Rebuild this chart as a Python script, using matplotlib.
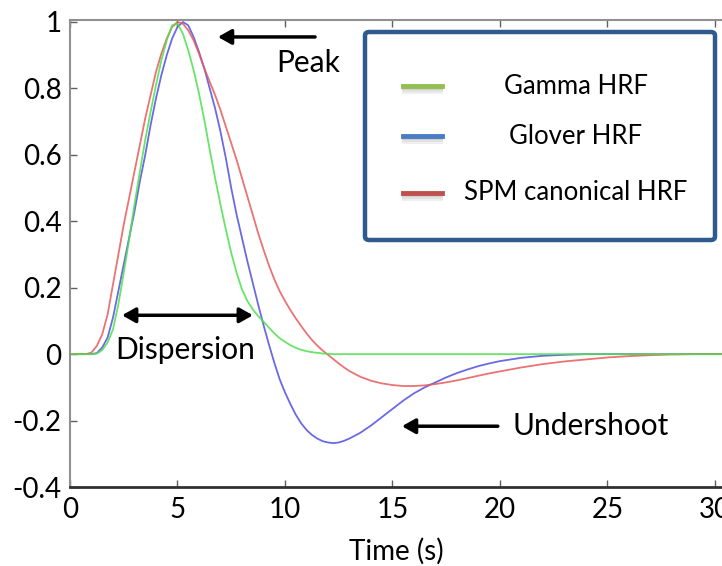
import numpy as np
import matplotlib
matplotlib.use("Agg")
import matplotlib.pyplot as plt
from matplotlib.patches import FancyBboxPatch
from matplotlib.lines import Line2D

plt.rcParams['font.family'] = ['Lato', 'DejaVu Sans']

# values
time = [0, 0.5, 0.75, 1, 1.25, 1.5, 1.75, 2, 2.25, 2.5, 2.75, 3, 3.25, 3.5, 3.75,
        4, 4.25, 4.5, 4.75, 5, 5.25, 5.5, 5.75, 6, 6.25, 6.5, 6.75, 7, 7.25, 7.5,
        7.75, 8, 8.25, 8.5, 8.75, 9, 9.25, 9.5, 9.75, 10, 10.25, 10.5, 10.75, 11,
        11.25, 11.5, 11.75, 12, 12.25, 12.5, 12.75, 13,
        13.5, 14, 14.5, 15, 15.5, 16, 16.5, 17, 17.5, 18, 18.5, 19, 19.5, 20,
        21, 22, 23, 24, 25, 26, 27, 28, 29, 30, 31]
gamma_hrf = [0, 0, 0, 0, 0.002, 0.012, 0.035, 0.075, 0.15, 0.245, 0.345, 0.45, 0.55,
             0.645, 0.73, 0.81, 0.885, 0.945, 0.99, 0.995, 0.965, 0.915, 0.855, 0.785,
             0.705, 0.615, 0.53, 0.45, 0.375, 0.305, 0.245, 0.195, 0.16, 0.135, 0.115,
             0.098, 0.08, 0.063, 0.048, 0.037, 0.027, 0.019, 0.013, 0.009, 0.006,
             0.004, 0.002, 0.001, 0, 0, 0, 0,
             0, 0, 0, 0, 0, 0, 0, 0, 0, 0, 0, 0, 0, 0,
             0, 0, 0, 0, 0, 0, 0, 0, 0, 0, 0]
glover_hrf = [0, 0, 0, 0, 0.003, 0.02, 0.05, 0.11, 0.19, 0.27, 0.35, 0.43, 0.52,
              0.60, 0.69, 0.77, 0.84, 0.90, 0.95, 0.985, 1.0, 0.99, 0.955, 0.91, 0.86,
              0.80, 0.74, 0.67, 0.59, 0.50, 0.42, 0.35, 0.28, 0.215, 0.15, 0.088, 0.03,
              -0.025, -0.075, -0.115, -0.15, -0.182, -0.208, -0.228, -0.243, -0.254,
              -0.262, -0.266, -0.268, -0.266, -0.261, -0.254,
              -0.237, -0.215, -0.19, -0.165, -0.14, -0.118, -0.1, -0.085, -0.07,
              -0.057, -0.046, -0.036, -0.028, -0.021,
              -0.011, -0.005, -0.002, 0, 0, 0, 0, 0, 0, 0, 0]
spm_hrf = [0, 0, 0, 0.005, 0.025, 0.06, 0.12, 0.21, 0.30, 0.39, 0.47, 0.55, 0.63,
           0.71, 0.78, 0.85, 0.905, 0.95, 0.985, 1.0, 0.995, 0.975, 0.945, 0.905, 0.86,
           0.82, 0.78, 0.735, 0.685, 0.635, 0.585, 0.53, 0.475, 0.42, 0.365, 0.315,
           0.268, 0.226, 0.19, 0.16, 0.133, 0.108, 0.085, 0.063, 0.043, 0.026, 0.011,
           -0.002, -0.015, -0.028, -0.04, -0.051,
           -0.068, -0.08, -0.088, -0.093, -0.096, -0.096, -0.094, -0.09, -0.085,
           -0.079, -0.072, -0.065, -0.058, -0.052,
           -0.04, -0.03, -0.022, -0.016, -0.01, -0.006, -0.003, -0.001, 0, 0, 0]
labels = ["Gamma HRF", "Glover HRF", "SPM canonical HRF"]
x_ticks = [0, 5, 10, 15, 20, 25, 30]
y_ticks = [-0.4, -0.2, 0, 0.2, 0.4, 0.6, 0.8, 1]
y_tick_labels = ["-0.4", "-0.2", "0", "0.2", "0.4", "0.6", "0.8", "1"]

W, H = 722, 566
fig = plt.figure(figsize=(W / 100, H / 100), dpi=100)
ax = fig.add_axes([70 / W, (H - 487) / H, (W - 70) / W, (487 - 20) / H])

ax.plot(time, glover_hrf, color="#5050e0", lw=1.3, alpha=0.85)
ax.plot(time, spm_hrf, color="#e85a5a", lw=1.3, alpha=0.85)
ax.plot(time, gamma_hrf, color="#4ee04e", lw=1.3, alpha=0.85)

ax.set_xlim(0, 30.33)
ax.set_ylim(-0.4, 1.006)
ax.set_xticks(x_ticks)
ax.set_yticks(y_ticks)
ax.set_yticklabels(y_tick_labels)
ax.tick_params(direction="in", top=True, right=False, length=5, width=1,
               color="#606060", labelsize=20)
ax.tick_params(axis="y", pad=6)
ax.tick_params(axis="x", pad=7)
for side in ["top", "left"]:
    ax.spines[side].set_color("#909090")
    ax.spines[side].set_linewidth(1.5)
ax.spines["bottom"].set_color("#303030")
ax.spines["bottom"].set_linewidth(2)
ax.spines["right"].set_visible(False)
ax.set_xlabel("Time (s)", fontsize=20, labelpad=11)

# annotations
arrow = dict(arrowstyle="-|>,head_length=0.8,head_width=0.45", color="black", lw=2.5,
             shrinkA=0, shrinkB=0)
ax.annotate("", xy=(6.88, 0.955), xytext=(11.4, 0.955), arrowprops=arrow)
ax.text(11.07, 0.877, "Peak", fontsize=21.5, ha="center", va="center")
darrow = dict(arrowstyle="<|-|>,head_length=0.8,head_width=0.45", color="black", lw=2.5,
              shrinkA=0, shrinkB=0)
ax.annotate("", xy=(2.42, 0.117), xytext=(8.51, 0.117), arrowprops=darrow)
ax.text(5.35, 0.012, "Dispersion", fontsize=21.5, ha="center", va="center")
ax.annotate("", xy=(15.44, -0.217), xytext=(19.9, -0.217), arrowprops=arrow)
ax.text(20.6, -0.217, "Undershoot", fontsize=21.5, ha="left", va="center")

# legend box drawn by hand, like the original slide graphic
box = FancyBboxPatch((365 / W, (H - 240) / H), 350 / W, 208 / H,
                     boxstyle="round,pad=0,rounding_size=0.006",
                     transform=fig.transFigure, facecolor="white",
                     edgecolor="#2f5a8e", lw=3.2, zorder=5)
fig.add_artist(box)
legend_colors = ["#92c050", "#4a7cc4", "#c0504d"]
row_y = [86, 136, 193]
for lab, col, yy in zip(labels, legend_colors, row_y):
    fy = (H - yy) / H
    for k, a in enumerate([0.35, 0.22, 0.12]):
        fig.add_artist(Line2D([403 / W, 442 / W], [fy - (3 + 2 * k) / H] * 2,
                              color="#808080", lw=1.5, alpha=a, zorder=6))
    fig.add_artist(Line2D([403 / W, 442 / W], [fy, fy], color=col, lw=3.5, zorder=7))
    fig.text(576 / W, fy, lab, fontsize=18.5, ha="center", va="center", zorder=8)

fig.savefig("out.png", dpi=100)
